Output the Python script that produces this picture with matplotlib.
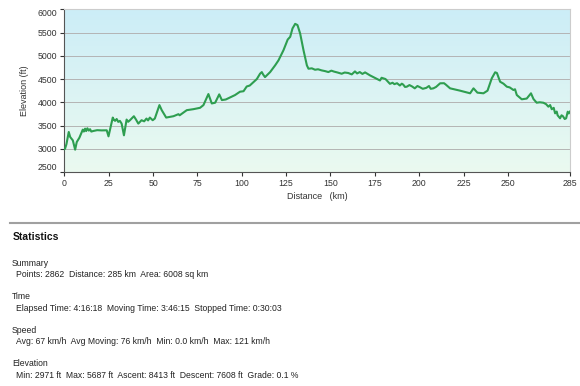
import numpy as np
import matplotlib.pyplot as plt

# elevation profile (km, ft)
dist = [0, 0.4, 1.2, 2.5, 3.3, 4.8, 6.1, 7.0, 8.5, 10.4, 11.0, 11.7, 12.3, 13.0, 13.8,
        14.5, 15.2, 16.4, 18.5, 21.0, 23.9, 24.9, 25.8, 27.3, 28.0, 28.6, 29.5, 30.4,
        31.3, 32.3, 33.6, 35.1, 36.0, 37.0, 38.2, 39.2, 40.4, 41.7, 43.5, 45.0, 46.3,
        47.2, 48.2, 49.8, 51.0, 53.6, 54.9, 57.4, 61.5, 64.3, 65.0, 69.0, 72.8, 76.5,
        78.4, 81.2, 83.1, 85.0, 87.3, 88.8, 91.0, 93.4, 96.2, 99.0, 101.0, 102.8, 104.5,
        106.6, 108.5, 110.3, 111.3, 112.0, 113.1, 116.0, 118.8, 120.7, 123.5, 125.9,
        127.3, 128.6, 130.1, 131.4, 132.9, 134.8, 136.7, 137.6, 139.5, 141.3, 143.0,
        145.0, 147.0, 148.8, 150.5, 152.0, 154.0, 156.3, 158.0, 160.0, 162.0, 163.8,
        165.0, 166.5, 168.0, 169.5, 172.3, 176.0, 177.9, 178.8, 181.0, 183.5, 185.0,
        186.0, 187.5, 189.1, 190.2, 191.0, 192.0, 193.0, 194.5, 196.0, 197.5, 199.0,
        200.5, 202.0, 204.0, 205.5, 206.5, 208.0, 209.5, 211.8, 214.0, 215.0, 217.4,
        223.0, 228.7, 230.6, 232.8, 236.2, 238.5, 240.9, 242.8, 243.8, 245.6, 247.5,
        249.4, 251.0, 253.1, 254.0, 255.0, 257.8, 260.6, 263.0, 264.4, 266.2, 268.0,
        270.0, 271.5, 272.8, 273.8, 274.7, 275.8, 276.6, 277.5, 278.0, 279.4, 280.2,
        281.0, 282.0, 282.8, 283.7, 284.3, 285.0]
elev = [2990, 3000, 3100, 3361, 3253, 3180, 2980, 3144, 3238, 3411, 3370, 3433, 3380,
        3440, 3390, 3420, 3370, 3383, 3400, 3395, 3397, 3267, 3420, 3671, 3620, 3600,
        3640, 3578, 3600, 3541, 3289, 3628, 3580, 3614, 3660, 3700, 3628, 3541, 3614,
        3590, 3650, 3610, 3671, 3614, 3650, 3939, 3830, 3671, 3700, 3744, 3720, 3830,
        3852, 3881, 3939, 4177, 3975, 3990, 4170, 4047, 4060, 4105, 4155, 4227, 4238,
        4340, 4360, 4433, 4500, 4614, 4650, 4600, 4541, 4650, 4794, 4902, 5119, 5350,
        5408, 5588, 5687, 5661, 5480, 5119, 4794, 4722, 4730, 4700, 4710, 4686, 4670,
        4650, 4680, 4660, 4640, 4614, 4640, 4630, 4600, 4664, 4620, 4650, 4610, 4643,
        4578, 4505, 4469, 4527, 4500, 4397, 4420, 4390, 4410, 4361, 4400, 4380, 4330,
        4335, 4370, 4340, 4300, 4350, 4322, 4290, 4310, 4350, 4290, 4300, 4330, 4408,
        4410, 4380, 4300, 4250, 4193, 4300, 4207, 4193, 4250, 4515, 4645, 4630, 4442,
        4400, 4335, 4320, 4264, 4280, 4156, 4064, 4080, 4193, 4070, 3991, 4000, 3990,
        3960, 3905, 3940, 3850, 3880, 3762, 3800, 3720, 3655, 3720, 3700, 3640, 3655,
        3797, 3760, 3800]

y_ticks = [2500, 3000, 3500, 4000, 4500, 5000, 5500, 6000]
x_ticks = [0, 25, 50, 75, 100, 125, 150, 175, 200, 225, 250, 285]

stats = [
    ("Summary", "Points: 2862  Distance: 285 km  Area: 6008 sq km"),
    ("Time", "Elapsed Time: 4:16:18  Moving Time: 3:46:15  Stopped Time: 0:30:03"),
    ("Speed", "Avg: 67 km/h  Avg Moving: 76 km/h  Min: 0.0 km/h  Max: 121 km/h"),
    ("Elevation", "Min: 2971 ft  Max: 5687 ft  Ascent: 8413 ft  Descent: 7608 ft  Grade: 0.1 %"),
]

plt.rcParams["font.family"] = ["Liberation Sans", "DejaVu Sans"]

fig = plt.figure(figsize=(5.8, 3.86), dpi=100)
ax = fig.add_axes([0.1109, 0.5544, 0.8719, 0.4215])

# background gradient: light blue at top to light green at bottom
top = np.array([0.80, 0.93, 0.97])
bot = np.array([0.92, 0.98, 0.94])
t = np.linspace(0, 1, 256)[:, None]
grad = top * (1 - t) + bot * t
ax.imshow(grad[:, None, :], extent=[0, 285, 2500, 6000], aspect="auto",
          origin="upper", zorder=0)

for yv in y_ticks[1:-1]:
    ax.axhline(yv, color="#b4b4b4", lw=0.7, zorder=1)

ax.plot(dist, elev, color="#2e9e50", lw=1.5, zorder=3)

ax.set_xlim(0, 285)
ax.set_ylim(2500, 6000)
ax.set_xticks(x_ticks)
ax.set_yticks(y_ticks)
ax.tick_params(labelsize=6.3, colors="#333333", length=3, width=0.8, pad=2)
ylabels = ax.get_yticklabels()
ylabels[0].set_va("bottom")
ylabels[-1].set_va("top")

for s in ["left", "bottom"]:
    ax.spines[s].set_color("#555555")
for s in ["top", "right"]:
    ax.spines[s].set_color("#cccccc")

ax.set_xlabel("Distance   (km)", fontsize=6.5, color="#333333", labelpad=3)
ax.set_ylabel("Elevation (ft)", fontsize=6.5, color="#333333", labelpad=6)

# separator and statistics block
fig.add_artist(plt.Line2D([10 / 580, 1], [1 - 222.7 / 386] * 2,
                          color="#a0a0a0", lw=1.5, transform=fig.transFigure))
fig.text(13 / 580, 1 - 237 / 386, "Statistics", fontsize=7.5, fontweight="bold",
         va="center", color="#111111")

y0 = 263.3
for head, body in stats:
    fig.text(12 / 580, 1 - y0 / 386, head, fontsize=6.2, va="center", color="#222222")
    fig.text(16 / 580, 1 - (y0 + 11.5) / 386, body, fontsize=6.2, va="center", color="#222222")
    y0 += 33.5

fig.savefig("out.png", dpi=100)
